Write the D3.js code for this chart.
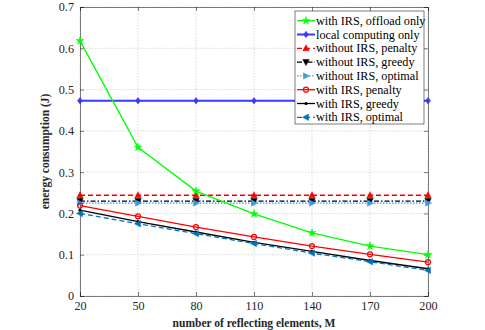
<!DOCTYPE html>
<html><head><meta charset="utf-8">
<script src="https://cdn.jsdelivr.net/npm/d3@7/dist/d3.min.js"></script>
<style>body{margin:0;background:#fff}</style>
</head><body><svg id="c" width="485" height="330"></svg>
<script>
const M = [20, 50, 80, 110, 140, 170, 200];
const xTicks = [20, 50, 80, 110, 140, 170, 200];
const yTicks = [0, 0.1, 0.2, 0.3, 0.4, 0.5, 0.6, 0.7];
const offloadOnly = [0.618, 0.36, 0.254, 0.199, 0.153, 0.121, 0.1];
const localOnly = [0.473, 0.473, 0.473, 0.473, 0.473, 0.473, 0.473];
const noIrsPenalty = [0.244, 0.244, 0.244, 0.244, 0.244, 0.244, 0.244];
const noIrsGreedy = [0.23, 0.23, 0.23, 0.23, 0.23, 0.23, 0.23];
const noIrsOptimal = [0.225, 0.225, 0.225, 0.225, 0.225, 0.225, 0.225];
const irsPenalty = [0.219, 0.193, 0.167, 0.143, 0.121, 0.101, 0.082];
const irsGreedy = [0.208, 0.18, 0.155, 0.13, 0.108, 0.086, 0.066];
const irsOptimal = [0.2, 0.175, 0.151, 0.127, 0.104, 0.083, 0.062];
const names = ["with IRS, offload only","local computing only","without IRS, penalty","without IRS, greedy","without IRS, optimal","with IRS, penalty","with IRS, greedy","with IRS, optimal"];

const FONT = "'Liberation Serif', 'Times New Roman', serif";
const series = [
 {name:names[0], v:offloadOnly, color:"#00ff00", w:1.3, dash:null, m:"star"},
 {name:names[1], v:localOnly, color:"#3a3aff", w:2, dash:null, m:"diamond"},
 {name:names[2], v:noIrsPenalty, color:"#ff0000", w:1.3, dash:"5,3", m:"triUp"},
 {name:names[3], v:noIrsGreedy, color:"#000000", w:1.3, dash:"5,2,1.5,2", m:"triDown"},
 {name:names[4], v:noIrsOptimal, color:"#3d9be0", w:1.3, dash:"1.5,1.5", m:"triRight"},
 {name:names[5], v:irsPenalty, color:"#ff0000", w:1.3, dash:null, m:"circle"},
 {name:names[6], v:irsGreedy, color:"#000000", w:1.3, dash:null, m:"dot"},
 {name:names[7], v:irsOptimal, color:"#0072bd", w:1.3, dash:"5,3", m:"triLeft"}
];

const svg = d3.select("#c");
const L=80, R=428, T=7, B=296;
const x = d3.scaleLinear().domain([20,200]).range([L,R]);
const y = d3.scaleLinear().domain([0,0.7]).range([B,T]);

const g = svg.append("g");
g.selectAll(".gx").data(xTicks).enter().append("line")
 .attr("x1",d=>x(d)).attr("x2",d=>x(d)).attr("y1",T).attr("y2",B)
 .attr("stroke","#c8c8c8").attr("stroke-width",0.7).attr("stroke-dasharray","1.5,1.5");
g.selectAll(".gy").data(yTicks).enter().append("line")
 .attr("y1",d=>y(d)).attr("y2",d=>y(d)).attr("x1",L).attr("x2",R)
 .attr("stroke","#c8c8c8").attr("stroke-width",0.7).attr("stroke-dasharray","1.5,1.5");

const ax = svg.append("g").attr("transform",`translate(0,${B})`)
 .call(d3.axisBottom(x).tickValues(xTicks).tickSize(-4).tickPadding(5).tickFormat(d3.format("d")));
const ay = svg.append("g").attr("transform",`translate(${L},0)`)
 .call(d3.axisLeft(y).tickValues(yTicks).tickSize(-4).tickPadding(6).tickFormat(d=>d===0?"0":d3.format(".1f")(d)));
const axT = svg.append("g").attr("transform",`translate(0,${T})`)
 .call(d3.axisTop(x).tickValues(xTicks).tickSize(-4).tickFormat(""));
const ayR = svg.append("g").attr("transform",`translate(${R},0)`)
 .call(d3.axisRight(y).tickValues(yTicks).tickSize(-4).tickFormat(""));
[ax,ay,axT,ayR].forEach(a=>{
 a.attr("font-family",FONT).attr("font-size",12.2);
 a.selectAll("path").attr("stroke","#262626").attr("stroke-width",0.6);
 a.selectAll("line").attr("stroke","#262626").attr("stroke-width",0.6);
 a.selectAll("text").attr("fill","#262626");
});

svg.append("text").attr("x",254).attr("y",327).attr("text-anchor","middle")
 .attr("font-family",FONT).attr("font-size",11.5).attr("font-weight","bold").attr("fill","#262626")
 .text("number of reflecting elements, M");
svg.append("text").attr("transform",`translate(49,${(T+B)/2}) rotate(-90)`).attr("text-anchor","middle")
 .attr("font-family",FONT).attr("font-size",11.5).attr("font-weight","bold").attr("fill","#262626")
 .text("energy consumption (J)");

function marker(sel, type, color, cx, cy){
 const s = 3.2;
 if(type==="circle"){
  sel.append("circle").attr("cx",cx).attr("cy",cy).attr("r",2.5).attr("fill","none").attr("stroke",color).attr("stroke-width",1.2);
 } else if(type==="dot"){
  sel.append("circle").attr("cx",cx).attr("cy",cy).attr("r",1.6).attr("fill",color);
 } else {
  let pts;
  if(type==="star"){
   pts=[]; for(let i=0;i<10;i++){const r=i%2?1.6:4.2;const a=-Math.PI/2+i*Math.PI/5;pts.push([cx+r*Math.cos(a),cy+r*Math.sin(a)]);}
  } else if(type==="diamond") pts=[[cx,cy-s],[cx+s*0.8,cy],[cx,cy+s],[cx-s*0.8,cy]];
  else if(type==="triUp") pts=[[cx,cy-s*1.1],[cx+s,cy+s*0.8],[cx-s,cy+s*0.8]];
  else if(type==="triDown") pts=[[cx,cy+s*1.1],[cx+s,cy-s*0.8],[cx-s,cy-s*0.8]];
  else if(type==="triRight") pts=[[cx+s*1.1,cy],[cx-s*0.8,cy-s],[cx-s*0.8,cy+s]];
  else if(type==="triLeft") pts=[[cx-s*1.1,cy],[cx+s*0.8,cy-s],[cx+s*0.8,cy+s]];
  sel.append("polygon").attr("points",pts.map(p=>p.join(",")).join(" ")).attr("fill",color).attr("stroke",color).attr("stroke-width",0.5);
 }
}

const line = d3.line().x((d,i)=>x(M[i])).y(d=>y(d));
const order = [1,2,3,4,0,5,6,7];
order.forEach(k=>{
 const s = series[k];
 const gg = svg.append("g");
 gg.append("path").attr("d",line(s.v)).attr("fill","none").attr("stroke",s.color)
  .attr("stroke-width",s.w).attr("stroke-dasharray",s.dash);
 s.v.forEach((v,i)=>marker(gg,s.m,s.color,x(M[i]),y(v)));
});

const lg = svg.append("g");
lg.append("rect").attr("x",295).attr("y",11).attr("width",129).attr("height",113)
 .attr("fill","#fff").attr("stroke","#262626").attr("stroke-width",0.6);
series.forEach((s,i)=>{
 const yy = 20.7 + i*13.8;
 lg.append("line").attr("x1",297).attr("x2",315).attr("y1",yy).attr("y2",yy)
  .attr("stroke",s.color).attr("stroke-width",s.w).attr("stroke-dasharray",s.dash);
 marker(lg,s.m,s.color,306,yy);
 lg.append("text").attr("x",316).attr("y",yy+4).attr("font-family",FONT).attr("font-size",12.2)
  .attr("fill","#000").text(s.name);
});
</script></body></html>
